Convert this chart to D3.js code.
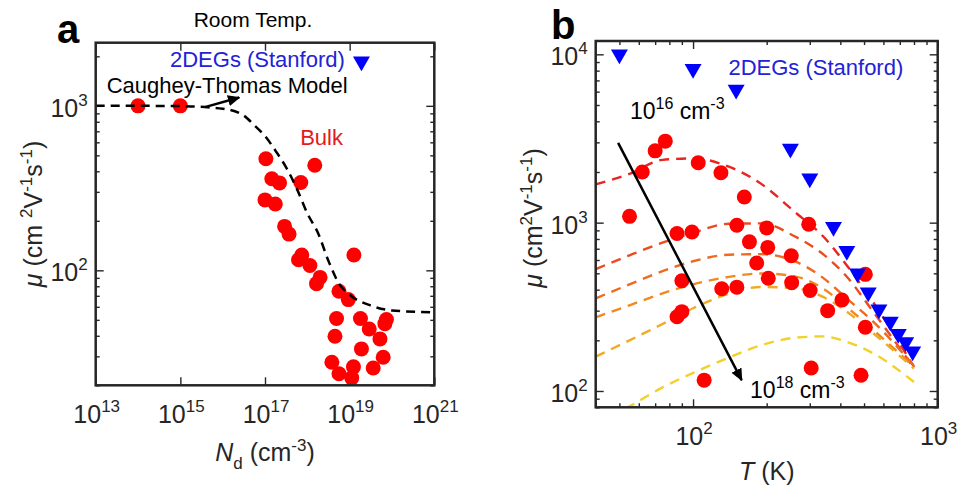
<!DOCTYPE html>
<html>
<head>
<meta charset="utf-8">
<script src="https://cdn.jsdelivr.net/npm/d3@7"></script>
<style>
  body { margin: 0; background: #fff; }
  svg text { font-family: "Liberation Sans", Arial, sans-serif; fill: #262626; }
</style>
</head>
<body>
<svg class="mob" width="959" height="487"></svg>
<script>
// ---- panel a : room temperature mobility vs doping ----
const bulkNd = [1e14, 1e15, 1.05e17, 1.5e18, 1.45e17, 2.2e17, 7e17, 1e17, 1.75e17, 2.9e17, 3.7e17,
  7.4e17, 6.2e17, 1.15e18, 2e18, 1.65e18, 5.6e18, 9.3e18, 4.9e18, 1.8e19, 2.9e19, 7.4e19, 6.8e19,
  4.5e18, 5.2e19, 1.9e19, 6.2e19, 3.8e18, 5.6e18, 1.23e19, 1.12e19, 3.6e19, 1.26e19];
const bulkMu = [1000, 1000, 477, 435, 360, 340, 342, 268, 253, 185, 166,
  124, 116, 107, 90.6, 83, 74.6, 66.4, 50.9, 50.9, 44, 50.2, 47.4,
  39.7, 38.3, 33.3, 29.6, 27.6, 23.5, 25.9, 22.2, 25.5, 124];

const ctNd = [1e13, 1e14, 1e15, 1e16, 3.2e16, 5.6e16, 1e17, 1.8e17, 3.2e17, 5.6e17,
  1e18, 1.8e18, 3.2e18, 5.6e18, 1e19, 3.2e19, 1e20, 1e21];
const ctMu = [1000, 1000, 996, 960, 870, 760, 655, 530, 420, 315,
  222, 168, 113, 83, 71, 61, 57, 55.5];

const sfNdA = [1.9e19];
const sfMuA = [1860];

const xTicksA = [1e13, 1e15, 1e17, 1e19, 1e21];
const yTicksA = [100, 1000];
const yMinorA = [20, 30, 40, 50, 60, 70, 80, 90, 200, 300, 400, 500, 600, 700, 800, 900, 2000];

// ---- panel b : mobility vs temperature ----
const sfT = [50, 100, 150, 250, 300, 375, 425, 470, 520, 575, 640, 690, 740, 790];
const sfMu = [10000, 8200, 6170, 2750, 1830, 944, 680, 500, 385, 305, 258, 218, 195, 172];

const dotT = [55, 62, 70, 77, 105, 130, 162, 86, 99, 151, 200, 297, 170, 202, 252, 182,
  506, 203, 253, 90, 131, 151, 301, 406, 355, 506, 86, 90, 111, 304, 486];
const dotMu = [1090, 2000, 2670, 3050, 2270, 1980, 1420, 863, 880, 966, 931, 979, 769, 713, 636, 576,
  493, 467, 440, 452, 405, 414, 395, 347, 300, 239, 276, 296, 116, 137, 124];

const fitT = [40, 55, 75, 100, 140, 190, 260, 340, 420, 550, 800];
const fit1 = [1690, 1950, 2360, 2410, 2150, 1700, 1160, 830, 570, 330, 139];
const fit2 = [530, 640, 760, 870, 985, 990, 830, 650, 487, 290, 137];
const fit3 = [355, 430, 515, 590, 645, 650, 590, 470, 360, 255, 141];
const fit4 = [274, 323, 380, 430, 476, 499, 480, 406, 320, 228, 139];
const fit5 = [160, 200, 250, 310, 378, 415, 408, 362, 300, 218, 136];
const fit6 = [63, 81, 105, 128, 158, 187, 207, 211, 197, 166, 113];
const fitColors = ["#e8251f", "#ec4a1f", "#ef6a1f", "#f1891f", "#efac22", "#f2d12b"];

const xTicksB = [100, 1000];
const xMinorB = [40, 50, 60, 70, 80, 90, 200, 300, 400, 500, 600, 700, 800, 900];
const yTicksB = [100, 1000, 10000];
const yMinorB = [80, 90, 200, 300, 400, 500, 600, 700, 800, 900, 2000, 3000, 4000, 5000, 6000, 7000, 8000, 9000];

const svg = d3.select('svg.mob');
const ink = '#262626';

const defs = svg.append('defs');
defs.append('marker')
  .attr('id', 'head')
  .attr('viewBox', '0 0 10 10')
  .attr('refX', 9).attr('refY', 5)
  .attr('markerWidth', 5).attr('markerHeight', 5)
  .attr('markerUnits', 'strokeWidth')
  .attr('orient', 'auto')
  .append('path').attr('d', 'M0,0.5L10,5L0,9.5z').attr('fill', '#000');

function powLabel(sel, v, big, small) {
  const e = Math.round(Math.log10(v));
  sel.append('tspan').text('10').style('font-size', big + 'px');
  sel.append('tspan').text(e).style('font-size', small + 'px').attr('dy', -Math.round(big * 0.42));
}

function frame(g, box, x, y, xMaj, xMin, yMaj, yMin, id) {
  defs.append('clipPath').attr('id', id)
    .append('rect').attr('x', box.l).attr('y', box.t)
    .attr('width', box.r - box.l).attr('height', box.b - box.t);

  const clean = a => a.call(s => s.select('.domain').remove())
    .call(s => s.selectAll('line').attr('stroke', ink).attr('stroke-width', 1.4));

  const axes = [
    [d3.axisBottom, `translate(0,${box.b})`, x, xMaj, 8],
    [d3.axisBottom, `translate(0,${box.b})`, x, xMin, 4],
    [d3.axisTop, `translate(0,${box.t})`, x, xMaj, 8],
    [d3.axisTop, `translate(0,${box.t})`, x, xMin, 4],
    [d3.axisLeft, `translate(${box.l},0)`, y, yMaj, 8],
    [d3.axisLeft, `translate(${box.l},0)`, y, yMin, 4],
    [d3.axisRight, `translate(${box.r},0)`, y, yMaj, 8],
    [d3.axisRight, `translate(${box.r},0)`, y, yMin, 4]
  ];
  axes.forEach(([fn, tr, sc, vals, len]) => {
    if (!vals.length) return;
    g.append('g').attr('transform', tr)
      .call(fn(sc).tickValues(vals).tickSize(-len).tickFormat(''))
      .call(clean);
  });

  g.selectAll('text.xlab').data(xMaj).enter().append('text')
    .attr('class', 'xlab')
    .attr('x', d => x(d) + 1).attr('y', box.b + 38)
    .attr('text-anchor', 'middle')
    .each(function(d) { powLabel(d3.select(this), d, 25, 17); });

  g.selectAll('text.ylab').data(yMaj).enter().append('text')
    .attr('class', 'ylab')
    .attr('x', box.l - 8).attr('y', d => y(d) + 11)
    .attr('text-anchor', 'end')
    .each(function(d) { powLabel(d3.select(this), d, 25, 17); });
}

function frameBox(g, box) {
  g.append('rect')
    .attr('x', box.l).attr('y', box.t)
    .attr('width', box.r - box.l).attr('height', box.b - box.t)
    .attr('fill', 'none').attr('stroke', ink).attr('stroke-width', 2.5);
}

function muTitle(g, cx, cy, gap) {
  const t = g.append('text')
    .attr('transform', `translate(${cx},${cy}) rotate(-90)`)
    .attr('text-anchor', 'middle')
    .style('font-size', '25px');
  t.append('tspan').text('\u03bc').style('font-style', 'italic');
  t.append('tspan').text(gap ? ' (cm ' : ' (cm');
  t.append('tspan').text('2').style('font-size', '17px').attr('dy', -10);
  t.append('tspan').text('V').attr('dy', 10);
  t.append('tspan').text('-1').style('font-size', '17px').attr('dy', -10);
  t.append('tspan').text('s').attr('dy', 10);
  t.append('tspan').text('-1').style('font-size', '17px').attr('dy', -10);
  t.append('tspan').text(')').attr('dy', 10);
}

function tri(g, xs, ys, x, y) {
  g.selectAll(null).data(xs).enter().append('path')
    .attr('d', d3.symbol(d3.symbolTriangle, 125))
    .attr('transform', (d, i) => `translate(${x(d)},${y(ys[i])}) rotate(180)`)
    .attr('fill', '#0000ff');
}

// ================= panel a =================
const boxA = {l: 95.7, r: 434.3, t: 42.7, b: 385.3};
const xA = d3.scaleLog().domain([1e13, 1e21]).range([boxA.l, boxA.r]);
const yA = d3.scaleLog().domain([20, 2420]).range([boxA.b, boxA.t]);
const gA = svg.append('g');

frame(gA, boxA, xA, yA, xTicksA, [], yTicksA, yMinorA, 'clipA');

const plotA = gA.append('g').attr('clip-path', 'url(#clipA)');
plotA.selectAll('circle').data(bulkNd).enter().append('circle')
  .attr('cx', d => xA(d)).attr('cy', (d, i) => yA(bulkMu[i])).attr('r', 7.5)
  .attr('fill', '#ff0000');

const lineA = d3.line().x(d => xA(d[0])).y(d => yA(d[1])).curve(d3.curveMonotoneX);
plotA.append('path')
  .datum(ctNd.map((d, i) => [d, ctMu[i]]))
  .attr('d', lineA)
  .attr('fill', 'none').attr('stroke', '#000').attr('stroke-width', 2.5)
  .attr('stroke-dasharray', '9,6');

tri(plotA, sfNdA, sfMuA, xA, yA);

gA.append('line')
  .attr('x1', xA(10 ** 15.58)).attr('y1', yA(982))
  .attr('x2', xA(10 ** 16.39)).attr('y2', yA(1123))
  .attr('stroke', '#000').attr('stroke-width', 2.5)
  .attr('marker-end', 'url(#head)');

gA.append('text').text('2DEGs (Stanford)')
  .attr('x', xA(10 ** 14.755)).attr('y', yA(1733))
  .style('font-size', '22px').style('fill', '#2222d6');
gA.append('text').text('Caughey-Thomas Model')
  .attr('x', xA(10 ** 13.26)).attr('y', yA(1200))
  .style('font-size', '22px').style('fill', '#000');
gA.append('text').text('Bulk')
  .attr('x', xA(10 ** 17.83)).attr('y', yA(580))
  .style('font-size', '22px').style('fill', '#e3191c');
gA.append('text').text('Room Temp.')
  .attr('x', 253).attr('y', 27).attr('text-anchor', 'middle')
  .style('font-size', '21px').style('fill', '#000');

frameBox(gA, boxA);

const ndT = gA.append('text')
  .attr('x', (boxA.l + boxA.r) / 2).attr('y', 461)
  .attr('text-anchor', 'middle').style('font-size', '25px');
ndT.append('tspan').text('N').style('font-style', 'italic');
ndT.append('tspan').text('d').style('font-size', '17px').attr('dy', 8);
ndT.append('tspan').text(' (cm').attr('dy', -8);
ndT.append('tspan').text('-3').style('font-size', '17px').attr('dy', -10);
ndT.append('tspan').text(')').attr('dy', 10);

muTitle(gA, 42, 214, true);

gA.append('text').text('a')
  .attr('x', 57).attr('y', 43)
  .style('font-size', '40px').style('font-weight', 'bold').style('fill', '#000');

// ================= panel b =================
const boxB = {l: 595.7, r: 937.7, t: 41, b: 407.3};
const xB = d3.scaleLog().domain([40, 1000]).range([boxB.l, boxB.r]);
const yB = d3.scaleLog().domain([80, 12000]).range([boxB.b, boxB.t]);
const gB = svg.append('g');

frame(gB, boxB, xB, yB, xTicksB, xMinorB, yTicksB, yMinorB, 'clipB');

const plotB = gB.append('g').attr('clip-path', 'url(#clipB)');
const lineB = d3.line().x(d => xB(d[0])).y(d => yB(d[1])).curve(d3.curveMonotoneX);
[fit1, fit2, fit3, fit4, fit5, fit6].forEach((mu, k) => {
  plotB.append('path')
    .datum(fitT.map((t, i) => [t, mu[i]]))
    .attr('d', lineB)
    .attr('fill', 'none').attr('stroke', fitColors[k]).attr('stroke-width', 2.4)
    .attr('stroke-dasharray', '10,7');
});

plotB.selectAll('circle').data(dotT).enter().append('circle')
  .attr('cx', d => xB(d)).attr('cy', (d, i) => yB(dotMu[i])).attr('r', 7.5)
  .attr('fill', '#ff0000');

tri(plotB, sfT, sfMu, xB, yB);

gB.append('line')
  .attr('x1', xB(49.4)).attr('y1', yB(2980))
  .attr('x2', xB(158)).attr('y2', yB(116))
  .attr('stroke', '#000').attr('stroke-width', 2.5)
  .attr('marker-end', 'url(#head)');

function conc(g, t, mu, e) {
  const s = g.append('text').attr('x', xB(t)).attr('y', yB(mu))
    .style('font-size', '23px').style('fill', '#000');
  s.append('tspan').text('10');
  s.append('tspan').text(e).style('font-size', '16px').attr('dy', -10);
  s.append('tspan').text(' cm').attr('dy', 10);
  s.append('tspan').text('-3').style('font-size', '16px').attr('dy', -10);
}
conc(gB, 55.2, 4150, '16');
conc(gB, 171, 90.6, '18');

gB.append('text').text('2DEGs (Stanford)')
  .attr('x', xB(139.5)).attr('y', yB(7500))
  .style('font-size', '22px').style('fill', '#2222d6');

frameBox(gB, boxB);

const tT = gB.append('text')
  .attr('x', (boxB.l + boxB.r) / 2).attr('y', 480)
  .attr('text-anchor', 'middle').style('font-size', '25px');
tT.append('tspan').text('T').style('font-style', 'italic');
tT.append('tspan').text(' (K)');

muTitle(gB, 542, 218, false);

gB.append('text').text('b')
  .attr('x', 551).attr('y', 39)
  .style('font-size', '40px').style('font-weight', 'bold').style('fill', '#000');
</script>
</body>
</html>
